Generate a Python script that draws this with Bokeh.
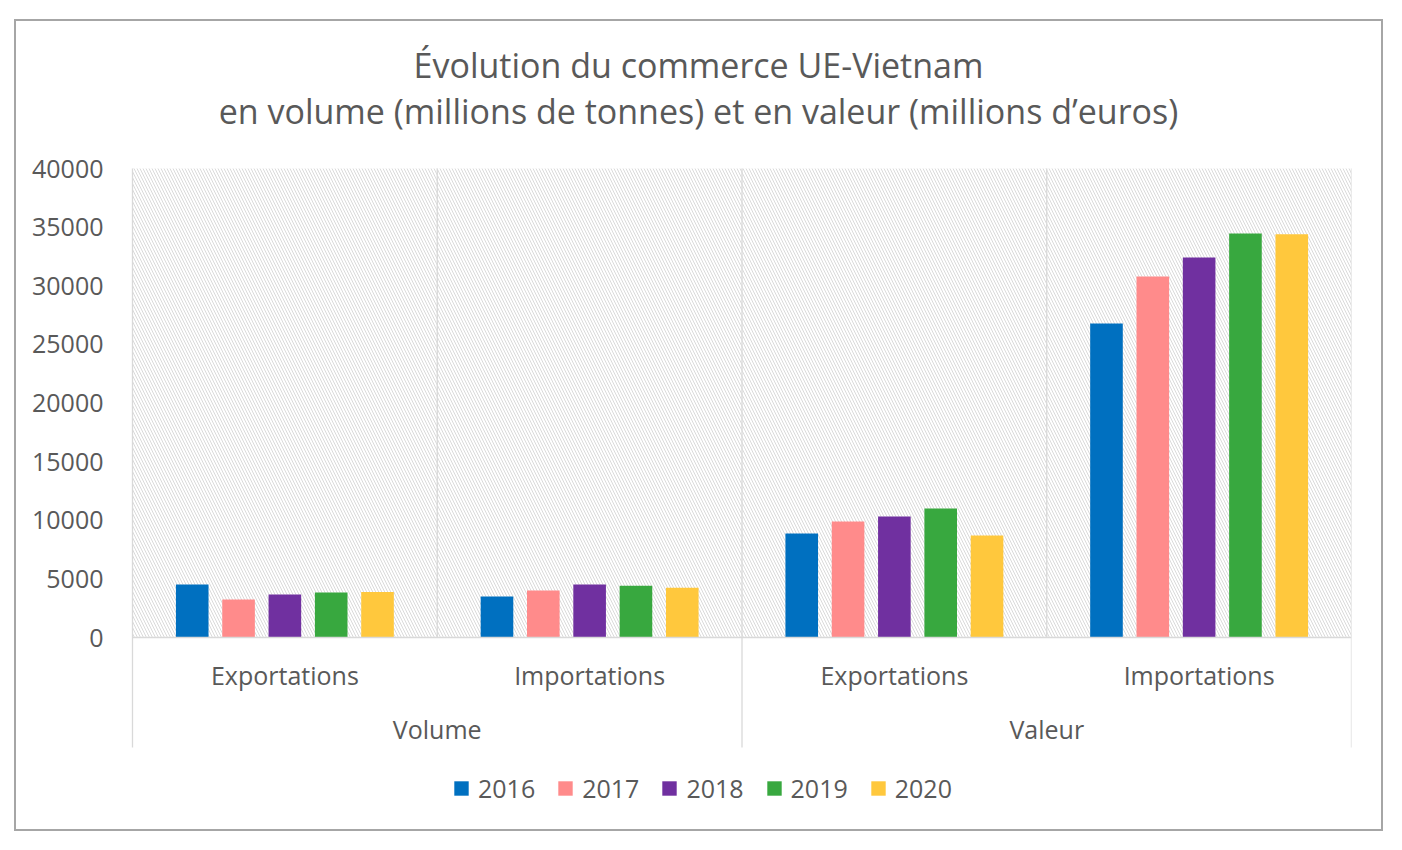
from bokeh.plotting import figure
from bokeh.models import (ColumnDataSource, FactorRange, Range1d, FixedTicker, Legend,
                          LegendItem, BoxAnnotation, Span, Label)
from bokeh.core.properties import value
from bokeh.transform import dodge
from bokeh.embed import file_html
from bokeh.resources import INLINE

# ---------------- data ----------------
groups = ["Volume", "Valeur"]
flows = ["Exportations", "Importations"]
years = ["2016", "2017", "2018", "2019", "2020"]
# order: (Volume, Exportations), (Volume, Importations), (Valeur, Exportations), (Valeur, Importations)
v2016 = [4520, 3500, 8870, 26780]
v2017 = [3240, 4010, 9890, 30790]
v2018 = [3670, 4520, 10320, 32410]
v2019 = [3840, 4410, 11000, 34460]
v2020 = [3870, 4240, 8700, 34400]
y_ticks = [0, 5000, 10000, 15000, 20000, 25000, 30000, 35000, 40000]
title_lines = ["Évolution du commerce UE-Vietnam",
               "en volume (millions de tonnes) et en valeur (millions d\u2019euros)"]
colors = ["#0070C0", "#FF8B8B", "#7030A0", "#38A83F", "#FFC83D"]

series = [v2016, v2017, v2018, v2019, v2020]
factors = [(g, f) for g in groups for f in flows]

# ---------------- layout constants (pixels) ----------------
FONT = "Open Sans"
TXT = "#595959"
LINE = "#D9D9D9"
W, H = 1369, 812
FRAME_TOP, FRAME_BOTTOM = 22, 834          # page pixels of the frame edges
PX_TOP, PX_ZERO = 169, 638                 # page pixels of 40000 and 0
YMAX = y_ticks[-1]
k = (PX_ZERO - PX_TOP) / YMAX              # px per unit


def y_at(px):
    return (PX_ZERO - px) / k


y_start, y_end = y_at(FRAME_BOTTOM), y_at(FRAME_TOP)
y_sep_bottom = y_at(748)
y_flow_lbl = y_at(675)
y_group_lbl = y_at(729)

x_range = FactorRange(factors=factors, group_padding=0, subgroup_padding=0,
                      factor_padding=0, range_padding=0)

p = figure(x_range=x_range, y_range=Range1d(y_start, y_end),
           width=W, height=H, output_backend="svg", toolbar_location=None,
           x_axis_location=None,
           min_border_left=116, min_border_right=34, min_border_top=0, min_border_bottom=0)
p.margin = (19, 0, 0, 14)
p.styles = {"border": "2px solid #A6A6A6"}
p.xgrid.visible = False
p.ygrid.visible = False
p.outline_line_color = None
p.background_fill_color = "white"
p.border_fill_color = "white"

# hatched plot area
hatch = BoxAnnotation(bottom=0, top=YMAX, fill_color=None, line_color=None,
                      hatch_pattern="\\", hatch_color="#DADADA", hatch_scale=6,
                      hatch_weight=1, level="underlay")
p.add_layout(hatch)

# separators
n_sub = len(flows)
inner = [i for i in range(1, len(factors)) if i % n_sub != 0]
outer = [i for i in range(n_sub, len(factors) + 1, n_sub)]
p.segment(x0=inner, x1=inner, y0=[0] * len(inner), y1=[YMAX] * len(inner),
          line_color=LINE, line_width=1.3, level="underlay")
p.segment(x0=outer, x1=outer, y0=[y_sep_bottom] * len(outer), y1=[YMAX] * len(outer),
          line_color=LINE, line_width=1.3, level="underlay")
p.add_layout(Span(location=0, dimension="width", line_color=LINE, line_width=1.3))

# bars
src = ColumnDataSource(dict(x=factors, **{yr: vals for yr, vals in zip(years, series)}))
step = 0.152
bw = 0.107
items = []
for i, (yr, c) in enumerate(zip(years, colors)):
    off = (i - (len(years) - 1) / 2) * step
    r = p.vbar(x=dodge("x", off, range=p.x_range), top=yr, width=bw, source=src,
               fill_color=c, line_color=None)
    items.append(LegendItem(label=yr, renderers=[r]))

# category labels
lbl_src = ColumnDataSource(dict(x=factors, y=[y_flow_lbl] * len(factors),
                                t=[f for _, f in factors]))
p.text(x="x", y="y", text="t", source=lbl_src, text_align="center", text_baseline="middle",
       text_font=value(FONT), text_font_size="25px", text_color=TXT)
grp_src = ColumnDataSource(dict(x=groups, y=[y_group_lbl] * len(groups), t=groups))
p.text(x="x", y="y", text="t", source=grp_src, text_align="center", text_baseline="middle",
       text_font=value(FONT), text_font_size="25px", text_color=TXT)

# y axis
ya = p.yaxis[0]
ya.ticker = FixedTicker(ticks=y_ticks)
ya.bounds = (y_sep_bottom, YMAX)
ya.major_tick_line_color = None
ya.minor_tick_line_color = None
ya.major_tick_out = 0
ya.major_tick_in = 0
ya.axis_line_color = LINE
ya.axis_line_width = 1.3
ya.major_label_standoff = 29
ya.major_label_text_font = FONT
ya.major_label_text_font_size = "25px"
ya.major_label_text_color = TXT

# legend
legend = Legend(items=items, orientation="horizontal", location=(320, 28),
                glyph_width=18, glyph_height=18, label_standoff=8, spacing=21,
                padding=0, margin=0, label_text_font=FONT, label_text_font_size="25px",
                label_text_color=TXT, border_line_color=None, background_fill_alpha=0)
p.add_layout(legend)

# title (two centred lines)
for txt, ys in zip(title_lines, [769, 723]):
    p.add_layout(Label(x=699 - 133, y=ys, x_units="screen", y_units="screen",
                       text=txt, text_align="center", text_baseline="alphabetic",
                       text_font=FONT, text_font_size="34px", text_color=TXT))

open("out.html", "w").write(file_html(p, INLINE))
